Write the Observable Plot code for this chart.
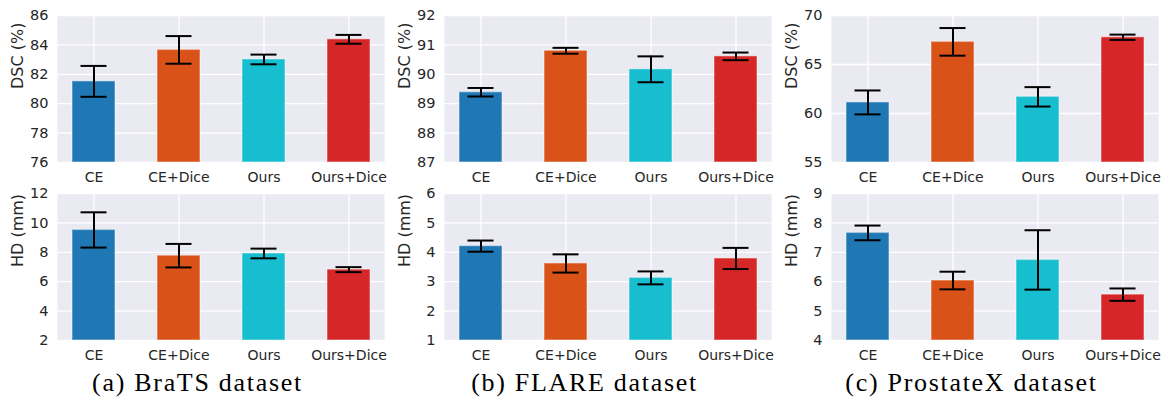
<!DOCTYPE html>
<html>
<head>
<meta charset="utf-8">
<script src="https://cdn.jsdelivr.net/npm/d3@7"></script>
<script src="https://cdn.jsdelivr.net/npm/@observablehq/plot@0.6"></script>
<style>
  html, body { margin: 0; padding: 0; background: #ffffff; }
  #root { position: relative; width: 1161px; height: 406px; overflow: hidden; }
  .cell { position: absolute; }
  .cell svg { overflow: visible; }
  .cap { position: absolute; width: 387px; text-align: center; font-family: "Liberation Serif", serif;
         font-size: 26px; line-height: 26px; letter-spacing: 1.7px; color: #000; }
</style>
</head>
<body>
<div id="root"></div>
<script>
// ---- data ----
const methods = ["CE", "CE+Dice", "Ours", "Ours+Dice"];
const colors = ["#1f77b4", "#d95319", "#17becf", "#d62728"];

const datasets = ["(a) BraTS dataset", "(b) FLARE dataset", "(c) ProstateX dataset"];

const bratsDsc = [81.52, 83.66, 83.01, 84.38];
const bratsDscErr = [1.05, 0.94, 0.33, 0.30];
const bratsHd = [9.52, 7.77, 7.92, 6.82];
const bratsHdErr = [1.20, 0.80, 0.33, 0.17];

const flareDsc = [89.39, 90.80, 90.17, 90.61];
const flareDscErr = [0.145, 0.10, 0.44, 0.13];
const flareHd = [4.21, 3.62, 3.13, 3.79];
const flareHdErr = [0.19, 0.31, 0.22, 0.36];

const prostDsc = [61.13, 67.31, 61.70, 67.78];
const prostDscErr = [1.22, 1.41, 0.99, 0.27];
const prostHd = [7.66, 6.04, 6.74, 5.56];
const prostHdErr = [0.25, 0.30, 1.01, 0.21];

const bratsDscTicks = [76, 78, 80, 82, 84, 86];
const bratsHdTicks = [2, 4, 6, 8, 10, 12];
const flareDscTicks = [87, 88, 89, 90, 91, 92];
const flareHdTicks = [1, 2, 3, 4, 5, 6];
const prostDscTicks = [55, 60, 65, 70];
const prostHdTicks = [4, 5, 6, 7, 8, 9];

const dscLabel = "DSC (%)";
const hdLabel = "HD (mm)";

// ---- drawing ----
const textColor = "#262626";

function panel(values, errs, ticks, label) {
  const data = methods.map((m, i) => ({method: m, value: values[i], err: errs[i]}));
  const y0 = ticks[0], y1 = ticks[ticks.length - 1];
  return Plot.plot({
    width: 387,
    height: 186,
    marginLeft: 57,
    marginRight: 3,
    marginTop: 15,
    marginBottom: 24,
    style: {fontFamily: "DejaVu Sans", fontSize: "14px", color: textColor, background: "transparent", overflow: "visible"},
    x: {type: "band", domain: methods, paddingInner: 0.5, paddingOuter: 0.17, label: null},
    y: {domain: [y0, y1], label: null},
    color: {domain: methods, range: colors},
    marks: [
      Plot.frame({fill: "#eaeaf2", stroke: "none"}),
      Plot.gridX({stroke: "#ffffff", strokeOpacity: 1, strokeWidth: 1.3}),
      Plot.gridY(ticks, {stroke: "#ffffff", strokeOpacity: 1, strokeWidth: 1.3}),
      Plot.barY(data, {x: "method", y1: () => y0, y2: "value", fill: "method",
        stroke: "#ffffff", strokeOpacity: 0.35, strokeWidth: 1.5}),
      Plot.ruleX(data, {x: "method", y1: d => d.value - d.err, y2: d => d.value + d.err,
        stroke: "#000", strokeWidth: 2}),
      Plot.tickY(data, {x: "method", y: d => d.value + d.err, stroke: "#000", strokeWidth: 2,
        insetLeft: 8.5, insetRight: 8.5}),
      Plot.tickY(data, {x: "method", y: d => d.value - d.err, stroke: "#000", strokeWidth: 2,
        insetLeft: 8.5, insetRight: 8.5}),
      Plot.axisX({tickSize: 0, tickPadding: 10, fontSize: 14, fill: textColor}),
      Plot.axisY({ticks, tickSize: 0, tickPadding: 9, fontSize: 14.5, fill: textColor, tickFormat: d3.format("d")}),
      Plot.text([label], {frameAnchor: "left", dx: -40, rotate: -90, fontSize: 16, fill: textColor})
    ]
  });
}

const root = document.getElementById("root");
const grid = [
  [bratsDsc, bratsDscErr, bratsDscTicks, bratsHd, bratsHdErr, bratsHdTicks],
  [flareDsc, flareDscErr, flareDscTicks, flareHd, flareHdErr, flareHdTicks],
  [prostDsc, prostDscErr, prostDscTicks, prostHd, prostHdErr, prostHdTicks]
];
grid.forEach((g, i) => {
  const top = document.createElement("div");
  top.className = "cell";
  top.style.left = (i * 387) + "px";
  top.style.top = "0px";
  top.appendChild(panel(g[0], g[1], g[2], dscLabel));
  root.appendChild(top);

  const bot = document.createElement("div");
  bot.className = "cell";
  bot.style.left = (i * 387) + "px";
  bot.style.top = "178px";
  bot.appendChild(panel(g[3], g[4], g[5], hdLabel));
  root.appendChild(bot);

  const cap = document.createElement("div");
  cap.className = "cap";
  cap.style.left = (i * 387 + 4) + "px";
  cap.style.top = "370px";
  cap.textContent = datasets[i];
  root.appendChild(cap);
});
</script>
</body>
</html>
